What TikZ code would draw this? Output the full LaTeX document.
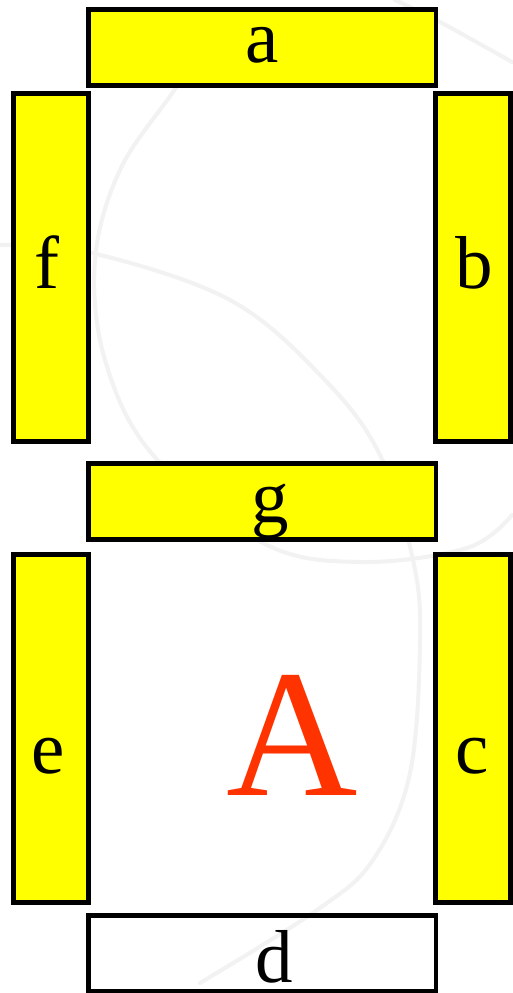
\documentclass[tikz,border=0pt]{standalone}
\usepackage{fontspec}
\setmainfont{Liberation Serif}
\definecolor{segyellow}{RGB}{255,255,0}
\definecolor{bigred}{RGB}{255,51,0}
\definecolor{wm}{RGB}{242,242,242}
\begin{document}
\begin{tikzpicture}[x=1pt,y=-1pt,
  seg/.style={draw=black,line width=4.7pt,fill=segyellow,rectangle,inner sep=0pt,outer sep=0pt},
  segoff/.style={draw=black,line width=4.7pt,rectangle,inner sep=0pt,outer sep=0pt},
  hseg/.style={minimum width=347.5pt,minimum height=75.8pt},
  vseg/.style={minimum width=75pt,minimum height=348pt},
  lab/.style={anchor=base,inner sep=0pt,font=\fontsize{75}{75}\selectfont},
  wmline/.style={draw=wm,line width=4pt,line cap=round}]
\useasboundingbox (0,0) rectangle (512,993);
\fill[white] (0,0) rectangle (512,993);
% faint watermark arcs
\draw[wmline] plot[smooth,tension=0.6] coordinates {(215,30) (173,92) (120,170) (95,260) (105,360) (153,455) (263,543) (360,562) (467,548) (512,515)};
\draw[wmline] plot[smooth,tension=0.6] coordinates {(0,245) (92,253) (230,300) (323,378) (380,455) (413,560) (420,640) (410,773) (373,860) (317,910) (200,983)};
\draw[wmline] plot[smooth,tension=0.6] coordinates {(395,0) (440,22) (512,62)};
% segments
\node[seg,hseg] (segA) at (262.2,47.6) {};
\node[seg,vseg] (segF) at (51,267.2) {};
\node[seg,vseg] (segB) at (473,267.2) {};
\node[seg,hseg] (segG) at (262.2,501.6) {};
\node[seg,vseg] (segE) at (51,728.3) {};
\node[seg,vseg] (segC) at (473,728.3) {};
\node[segoff,hseg] (segD) at (262.2,953.6) {};
% labels
\node[lab] (labA) at (262,62) {a};
\node[lab] (labF) at (47,288) {f};
\node[lab] (labB) at (474,288) {b};
\node[lab] (labG) at (270,522) {g};
\node[lab] (labE) at (48,773) {e};
\node[lab] (labC) at (472,773) {c};
\node[lab] (labD) at (274,982) {d};
\node[anchor=base,inner sep=0pt,text=bigred,font=\fontsize{182}{182}\selectfont] (big) at (292.5,795) {A};
\end{tikzpicture}
\end{document}
